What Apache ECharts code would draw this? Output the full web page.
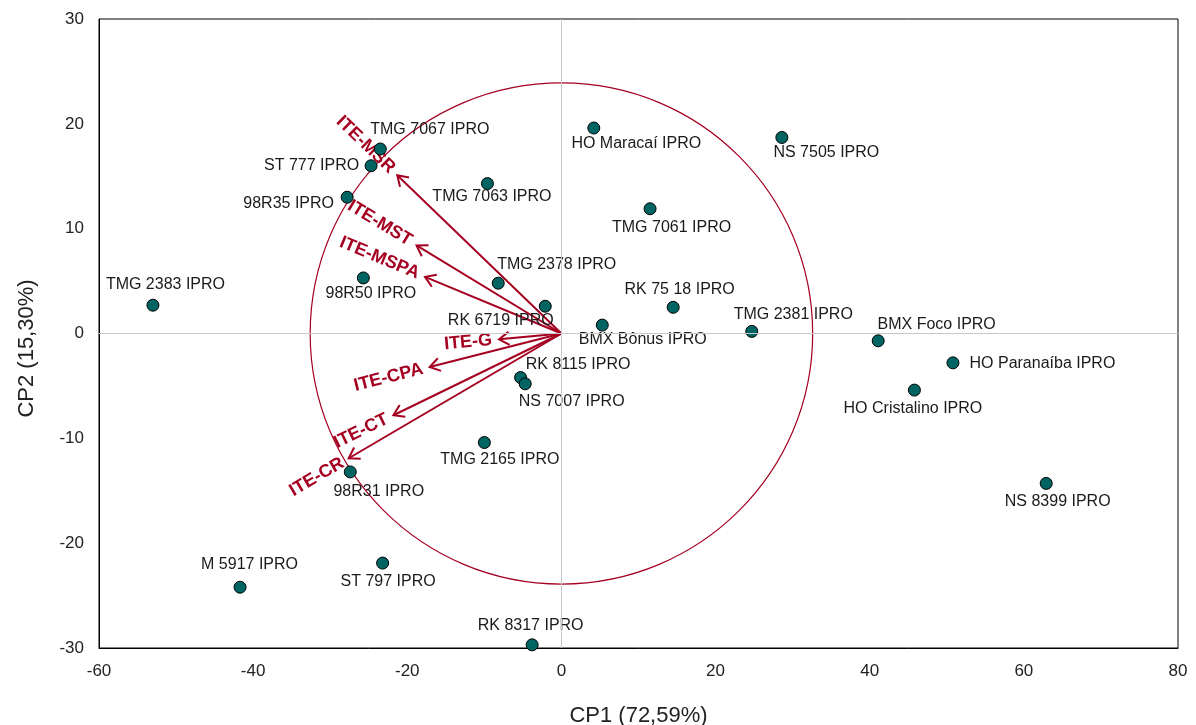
<!DOCTYPE html>
<html>
<head>
<meta charset="utf-8">
<script src="https://cdn.jsdelivr.net/npm/echarts@6/dist/echarts.min.js"></script>
<style>
  html, body { margin: 0; padding: 0; background: #fff; }
  #chart { width: 1196px; height: 725px; }
</style>
</head>
<body>
<div id="chart"></div>
<script>
// ---------- data ----------
var genotypes = ['TMG 2383 IPRO', 'M 5917 IPRO', 'ST 797 IPRO', 'RK 8317 IPRO', '98R31 IPRO',
  'TMG 2165 IPRO', 'RK 8115 IPRO', 'NS 7007 IPRO', 'RK 6719 IPRO', 'TMG 2378 IPRO',
  '98R50 IPRO', '98R35 IPRO', 'ST 777 IPRO', 'TMG 7067 IPRO', 'TMG 7063 IPRO',
  'HO Maracaí IPRO', 'NS 7505 IPRO', 'TMG 7061 IPRO', 'RK 75 18 IPRO', 'BMX Bônus IPRO',
  'TMG 2381 IPRO', 'BMX Foco IPRO', 'HO Paranaíba IPRO', 'HO Cristalino IPRO', 'NS 8399 IPRO'];
var cp1 = [-53.0, -41.7, -23.2, -3.8, -27.4,
  -10.0, -5.3, -4.7, -2.1, -8.2,
  -25.7, -27.8, -24.7, -23.5, -9.6,
  4.2, 28.6, 11.5, 14.5, 5.3,
  24.7, 41.1, 50.8, 45.8, 62.9];
var cp2 = [2.7, -24.2, -21.9, -29.7, -13.2,
  -10.4, -4.2, -4.8, 2.6, 4.8,
  5.3, 13.0, 16.0, 17.6, 14.3,
  19.6, 18.7, 11.9, 2.5, 0.8,
  0.2, -0.7, -2.8, -5.4, -14.3];

var traits = ['ITE-MSR', 'ITE-MST', 'ITE-MSPA', 'ITE-G', 'ITE-CPA', 'ITE-CT', 'ITE-CR'];
var traitCp1 = [-21.3, -18.8, -17.7, -8.1, -17.1, -21.8, -27.6];
var traitCp2 = [15.1, 8.4, 5.4, -0.55, -3.2, -7.8, -11.9];

var circleCenter = [0, 0];
var circleRadiusCp1 = 32.6;
var circleRadiusCp2 = 23.9;

var xTicks = { min: -60, max: 80, step: 20 };
var yTicks = { min: -30, max: 30, step: 10 };

// ---------- styling (label placement offsets in px, not data) ----------
var labelOffsets = [[13, -20], [10, -22], [6, 19], [-1, -19], [29, 20],
  [16, 18], [58, -12], [47, 18], [-44, 15], [59, -18],
  [8, 16], [-58, 7], [-59, 0], [50, -19], [5, 14],
  [43, 16], [45, 16], [22, 19], [7, -17], [41, 15],
  [42, -16], [59, -16], [90, 1], [-1, 19], [12, 19]];

var FONT = '"Liberation Sans", Arial, Helvetica, sans-serif';
var RED = '#A50021';
var TEAL = '#006462';
var SYMBOL = 12;

var chart = echarts.init(document.getElementById('chart'));

var scatterData = genotypes.map(function (g, i) {
  return {
    name: g,
    value: [cp1[i], cp2[i]],
    label: { position: [SYMBOL / 2 + labelOffsets[i][0], SYMBOL / 2 + labelOffsets[i][1]] }
  };
});

var arrowData = traits.map(function (t, i) {
  return { name: t, value: [traitCp1[i], traitCp2[i]] };
});

var option = {
  animation: false,
  textStyle: { fontFamily: FONT },
  grid: {
    left: 99, right: 18, top: 19, bottom: 77,
    outerBoundsMode: 'none', containLabel: false,
    show: true, borderColor: '#000', borderWidth: 1
  },
  xAxis: {
    type: 'value', min: xTicks.min, max: xTicks.max, interval: xTicks.step,
    axisLine: { show: true, onZero: false, lineStyle: { color: '#000', width: 1 } },
    axisTick: { show: false },
    splitLine: { show: false },
    axisLabel: { fontSize: 17, color: '#222', margin: 15, fontFamily: FONT },
    name: 'CP1 (72,59%)', nameLocation: 'middle', nameGap: 57,
    nameTextStyle: { fontSize: 22, color: '#222', fontFamily: FONT }
  },
  yAxis: {
    type: 'value', min: yTicks.min, max: yTicks.max, interval: yTicks.step,
    axisLine: { show: true, onZero: false, lineStyle: { color: '#000', width: 1 } },
    axisTick: { show: false },
    splitLine: { show: false },
    axisLabel: { fontSize: 17, color: '#222', margin: 15, fontFamily: FONT },
    name: 'CP2 (15,30%)', nameLocation: 'middle', nameGap: 61,
    nameTextStyle: { fontSize: 22, color: '#222', fontFamily: FONT, padding: [0, 30, 0, 0] }
  },
  series: [
    {
      type: 'custom',
      name: 'circle',
      z: 1,
      silent: true,
      data: [circleCenter],
      renderItem: function (params, api) {
        var c = api.coord([api.value(0), api.value(1)]);
        var rx = api.size([circleRadiusCp1, 0])[0];
        var ry = api.size([0, circleRadiusCp2])[1];
        return {
          type: 'ellipse',
          shape: { cx: c[0], cy: c[1], rx: rx, ry: ry },
          style: { fill: 'none', stroke: RED, lineWidth: 1.2 }
        };
      },
      markLine: {
        silent: true,
        symbol: 'none',
        label: { show: false },
        lineStyle: { color: '#C8C8C8', type: 'solid', width: 1 },
        data: [{ xAxis: 0 }, { yAxis: 0 }]
      }
    },
    {
      type: 'custom',
      name: 'traits',
      z: 3,
      silent: true,
      data: arrowData,
      renderItem: function (params, api) {
        var o = api.coord(circleCenter);
        var t = api.coord([api.value(0), api.value(1)]);
        var dx = t[0] - o[0], dy = t[1] - o[1];
        var len = Math.sqrt(dx * dx + dy * dy);
        var ux = dx / len, uy = dy / len;
        var ah = 12, ang = Math.PI / 5.5;
        function rot(x, y, a) { return [x * Math.cos(a) - y * Math.sin(a), x * Math.sin(a) + y * Math.cos(a)]; }
        var w1 = rot(-ux, -uy, ang), w2 = rot(-ux, -uy, -ang);
        var gap = 7;
        var lp = [t[0] + ux * gap, t[1] + uy * gap];
        var rotation = Math.atan2(dy, -dx);
        var name = traits[params.dataIndex];
        return {
          type: 'group',
          children: [
            {
              type: 'line',
              shape: { x1: o[0], y1: o[1], x2: t[0], y2: t[1] },
              style: { stroke: RED, lineWidth: 2 }
            },
            {
              type: 'polyline',
              shape: { points: [[t[0] + w1[0] * ah, t[1] + w1[1] * ah], [t[0], t[1]], [t[0] + w2[0] * ah, t[1] + w2[1] * ah]] },
              style: { stroke: RED, lineWidth: 2, fill: 'none' }
            },
            {
              type: 'text',
              x: lp[0], y: lp[1],
              rotation: rotation,
              style: {
                text: name, align: 'right', verticalAlign: 'middle',
                fill: RED, font: 'bold 18px ' + FONT
              }
            }
          ]
        };
      }
    },
    {
      type: 'scatter',
      name: 'genotypes',
      z: 4,
      symbol: 'circle',
      symbolSize: SYMBOL,
      itemStyle: { color: TEAL, borderColor: '#000', borderWidth: 1, opacity: 1 },
      label: {
        show: true, formatter: '{b}',
        align: 'center', verticalAlign: 'middle',
        fontSize: 16, color: '#1a1a1a', fontFamily: FONT
      },
      labelLayout: { hideOverlap: false },
      emphasis: { disabled: true },
      data: scatterData
    }
  ]
};

chart.setOption(option);
</script>
</body>
</html>
